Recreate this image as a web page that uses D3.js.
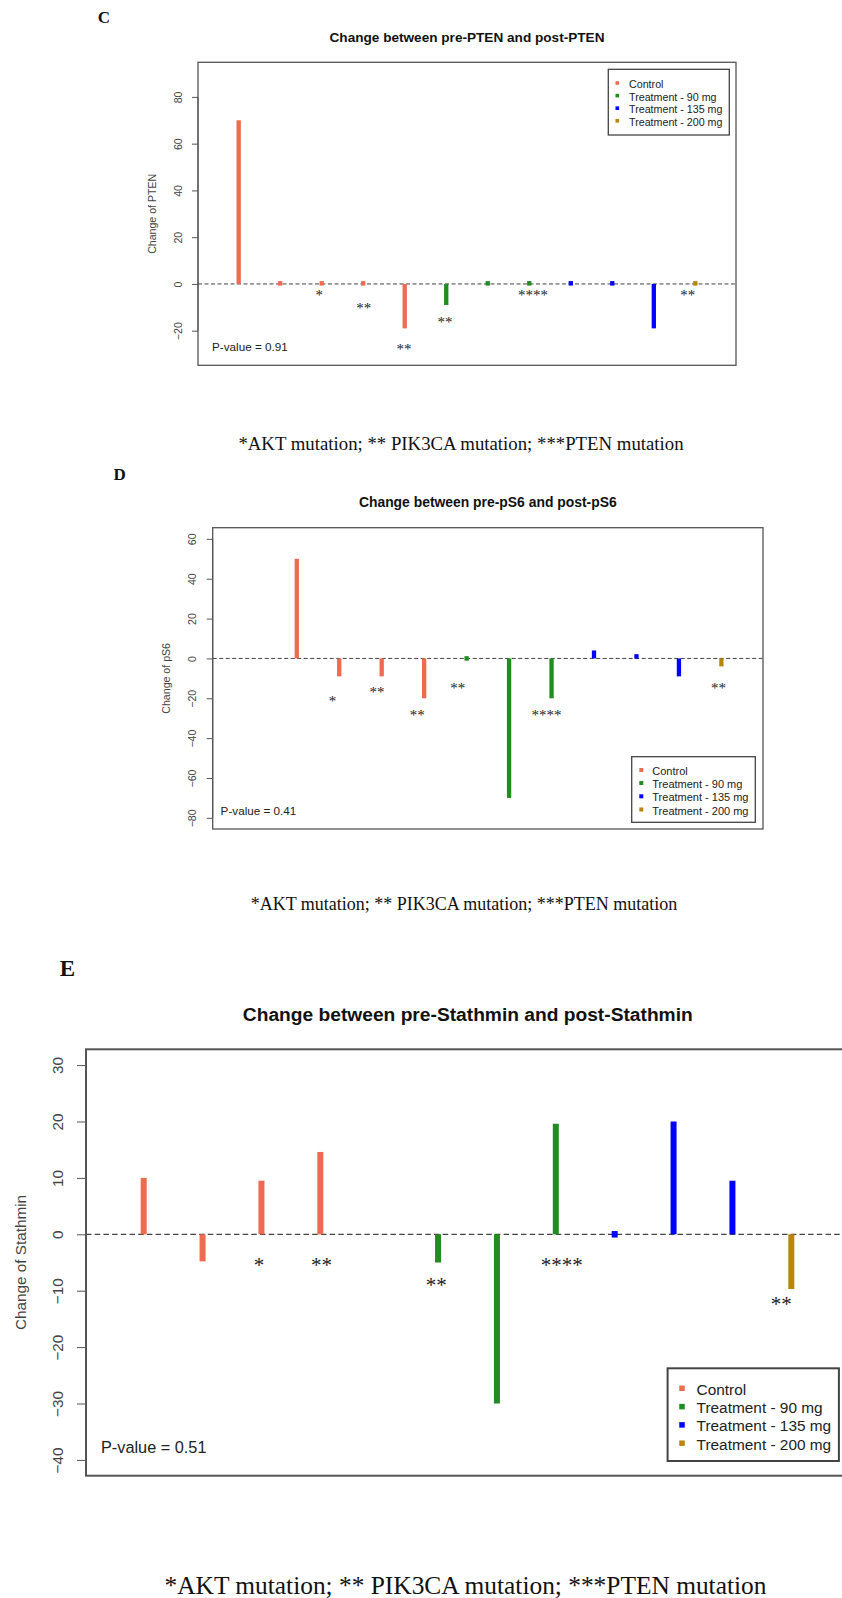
<!DOCTYPE html>
<html>
<head>
<meta charset="utf-8">
<script src="https://cdn.jsdelivr.net/npm/d3@7/dist/d3.min.js"></script>
<style>
  html, body { margin: 0; padding: 0; background: #fff; }
  svg { display: block; }
</style>
</head>
<body>
<div id="chart"></div>
<script>
// ---------------- DATA ----------------
const patients = [1, 2, 3, 4, 5, 6, 7, 8, 9, 10, 11, 12];
const groups = ["Control", "Control", "Control", "Control", "Control",
  "Treatment - 90 mg", "Treatment - 90 mg", "Treatment - 90 mg",
  "Treatment - 135 mg", "Treatment - 135 mg", "Treatment - 135 mg",
  "Treatment - 200 mg"];
const legendLabels = ["Control", "Treatment - 90 mg", "Treatment - 135 mg", "Treatment - 200 mg"];
const groupColors = ["#EE6A50", "#228B22", "#0000FF", "#B8860B"];

const ptenChange = [70, 0.5, 0.5, 0.5, -19, -9, 0.5, 0.5, 0.5, 0.5, -19, 0.5];
const ps6Change = [null, 50, -9, -9, -20, 0, -70, -20, 4, 2, -9, -4];
const stathminChange = [10, -4.8, 9.5, 14.6, null, -5, -30, 19.6, 0, 20, 9.5, -9.7];

const ptenTicks = [-20, 0, 20, 40, 60, 80];
const ps6Ticks = [-80, -60, -40, -20, 0, 20, 40, 60];
const stathminTicks = [-40, -30, -20, -10, 0, 10, 20, 30];

const ptenPValue = "P-value = 0.91";
const ps6PValue = "P-value = 0.41";
const stathminPValue = "P-value = 0.51";

// mutation marks: patient index and label
const markPatients = [3, 4, 5, 6, 8, 12];
const markLabels = ["*", "**", "**", "**", "****", "**"];
const stathminMarkPatients = [3, 4, 6, 8, 12];
const stathminMarkLabels = ["*", "**", "**", "****", "**"];

const footnote = "*AKT mutation; ** PIK3CA mutation; ***PTEN mutation";

// ---------------- LAYOUT ----------------
const W = 842, H = 1598;
const svg = d3.select("#chart").append("svg")
  .attr("width", W).attr("height", H)
  .attr("viewBox", `0 0 ${W} ${H}`);
svg.append("rect").attr("width", W).attr("height", H).attr("fill", "#fff");

const SANS = "'Liberation Sans', Arial, Helvetica, sans-serif";
const SERIF = "'Liberation Serif', 'Times New Roman', serif";

const panels = [
  {
    letter: "C", letterPos: [104, 17], letterSize: 17,
    title: "Change between pre-PTEN and post-PTEN", titlePos: [467, 37], titleSize: 13.6,
    values: ptenChange, ticks: ptenTicks, yLabel: "Change of PTEN",
    box: [198, 62.3, 736, 365.3], yDomain: [-34.8, 94.8],
    tickLen: 6, tickLabelX: 177.5, yLabelX: 152, axisFont: 10.6,
    barW: 4.3, minBar: 4.5, dash: "4,2.5", zeroW: 1, boxW: 1.3,
    pText: ptenPValue, pPos: [212, 346.7], pFont: 11.7,
    marks: markPatients, markLabels: markLabels,
    markX: [2.94, 4.01, 4.98, 5.97, 8.09, 11.82], markY: [-3.7, -9.4, -26.9, -15.2, -3.7, -3.7], markFont: 15,
    legend: { box: [608.3, 69.3, 729.3, 135], rows: [84, 96.6, 109.2, 121.8], markerX: 617.3, textX: 629, font: 10.7, marker: 3.6 },
    foot: { x: 461, y: 443, size: 18.8 }
  },
  {
    letter: "D", letterPos: [119.7, 474], letterSize: 17,
    title: "Change between pre-pS6 and post-pS6", titlePos: [487.8, 501.7], titleSize: 13.9,
    values: ps6Change, ticks: ps6Ticks, yLabel: "Change of pS6",
    box: [212.7, 527.7, 763, 829], yDomain: [-85.6, 65.6],
    tickLen: 6, tickLabelX: 191.7, yLabelX: 165.5, axisFont: 10.6,
    barW: 4.3, minBar: 4.5, dash: "4,2.5", zeroW: 1, boxW: 1.3,
    pText: ps6PValue, pPos: [220.6, 810], pFont: 11.7,
    marks: markPatients, markLabels: markLabels,
    markX: [2.84, 3.89, 4.84, 5.79, 7.88, 11.93], markY: [-20.3, -15.8, -27.2, -13.6, -27.2, -13.6], markFont: 15,
    legend: { box: [631.7, 756.7, 755.3, 822.3], rows: [771, 784, 797.3, 810.5], markerX: 641.3, textX: 652.3, font: 11, marker: 4 },
    foot: { x: 464, y: 904, size: 18 }
  },
  {
    letter: "E", letterPos: [67.4, 968.3], letterSize: 23,
    title: "Change between pre-Stathmin and post-Stathmin", titlePos: [467.8, 1014], titleSize: 19.2,
    values: stathminChange, ticks: stathminTicks, yLabel: "Change of Stathmin",
    box: [86, 1049.3, 849, 1475.7], yDomain: [-42.8, 32.8],
    tickLen: 9, tickLabelX: 57.5, yLabelX: 20.4, axisFont: 15.3,
    barW: 6, minBar: 6.5, dash: "5.5,3.2", zeroW: 1.3, boxW: 2,
    pText: stathminPValue, pPos: [101, 1447.3], pFont: 16.3,
    marks: stathminMarkPatients, markLabels: stathminMarkLabels,
    markX: [2.96, 4.02, 5.97, 8.10, 11.83], markY: [-4.9, -4.9, -8.3, -4.9, -11.7], markFont: 21,
    legend: { box: [667.6, 1368.3, 838.9, 1461], rows: [1389.3, 1407.6, 1425.9, 1444.2], markerX: 682, textX: 696.6, font: 15.4, marker: 5.5 },
    foot: { x: 465.5, y: 1585, size: 25.4 }
  }
];

const color = d3.scaleOrdinal().domain(legendLabels).range(groupColors);

panels.forEach(p => {
  const g = svg.append("g");
  const [x0, y0, x1, y1] = p.box;
  const x = d3.scaleLinear().domain([0.02, 12.98]).range([x0, x1]);
  const y = d3.scaleLinear().domain(p.yDomain).range([y1, y0]);

  // panel letter
  g.append("text").attr("x", p.letterPos[0]).attr("y", p.letterPos[1])
    .attr("text-anchor", "middle").attr("dominant-baseline", "central")
    .attr("font-family", SERIF).attr("font-weight", "bold")
    .attr("font-size", p.letterSize).attr("fill", "#111").text(p.letter);

  // title
  g.append("text").attr("x", p.titlePos[0]).attr("y", p.titlePos[1])
    .attr("text-anchor", "middle").attr("dominant-baseline", "central")
    .attr("font-family", SANS).attr("font-weight", "bold")
    .attr("font-size", p.titleSize).attr("fill", "#111").text(p.title);

  // y axis
  const axis = d3.axisLeft(y).tickValues(p.ticks).tickSize(p.tickLen).tickPadding(0).tickFormat(d3.format("d"));
  const ag = g.append("g").attr("transform", `translate(${x0},0)`).call(axis);
  ag.select(".domain").attr("stroke", "#555").attr("stroke-width", 1)
    .attr("d", `M0,${y(d3.min(p.ticks))}V${y(d3.max(p.ticks))}`);
  ag.selectAll(".tick line").attr("stroke", "#555").attr("stroke-width", 1);
  ag.selectAll(".tick text")
    .attr("x", null).attr("dy", null)
    .attr("transform", `translate(${p.tickLabelX - x0},0) rotate(-90)`)
    .attr("text-anchor", "middle").attr("dominant-baseline", "central")
    .attr("font-family", SANS).attr("font-size", p.axisFont).attr("fill", "#444");

  // y label
  g.append("text")
    .attr("transform", `translate(${p.yLabelX},${(y0 + y1) / 2}) rotate(-90)`)
    .attr("text-anchor", "middle").attr("dominant-baseline", "central")
    .attr("font-family", SANS).attr("font-size", p.axisFont).attr("fill", "#444")
    .text(p.yLabel);

  // clip for plot area
  const clipId = "clip" + p.letter;
  svg.append("clipPath").attr("id", clipId).append("rect")
    .attr("x", x0).attr("y", y0).attr("width", x1 - x0).attr("height", y1 - y0);

  // zero dashed line
  g.append("line").attr("x1", x0).attr("x2", x1).attr("y1", y(0)).attr("y2", y(0))
    .attr("stroke", "#444").attr("stroke-width", p.zeroW).attr("stroke-dasharray", p.dash);

  // bars (type = "h")
  const data = patients.map((d, i) => ({ pos: d, v: p.values[i], grp: groups[i] }))
    .filter(d => d.v !== null);
  g.append("g").attr("clip-path", `url(#${clipId})`).selectAll("rect.bar").data(data).join("rect")
    .attr("class", "bar")
    .attr("x", d => x(d.pos) - p.barW / 2)
    .attr("width", p.barW)
    .attr("y", d => {
      const a = Math.min(y(d.v), y(0)), b = Math.max(y(d.v), y(0));
      if (b - a < p.minBar) return (a + b) / 2 - p.minBar / 2;
      return a;
    })
    .attr("height", d => Math.max(Math.abs(y(d.v) - y(0)), p.minBar))
    .attr("fill", d => color(d.grp));

  // mutation marks
  g.selectAll("text.mark").data(p.markLabels).join("text")
    .attr("class", "mark")
    .attr("x", (d, i) => x(p.markX[i]))
    .attr("y", (d, i) => y(p.markY[i]) + p.markFont * 0.5)
    .attr("text-anchor", "middle")
    .attr("font-family", SERIF).attr("font-size", p.markFont).attr("fill", "#222")
    .text(d => d);

  // p-value
  g.append("text").attr("x", p.pPos[0]).attr("y", p.pPos[1])
    .attr("dominant-baseline", "central")
    .attr("font-family", SANS).attr("font-size", p.pFont).attr("fill", "#222")
    .text(p.pText);

  // legend
  const L = p.legend;
  g.append("rect").attr("x", L.box[0]).attr("y", L.box[1])
    .attr("width", L.box[2] - L.box[0]).attr("height", L.box[3] - L.box[1])
    .attr("fill", "#fff").attr("stroke", "#444").attr("stroke-width", p.boxW);
  const lg = g.selectAll("g.leg").data(legendLabels).join("g").attr("class", "leg");
  lg.append("rect")
    .attr("x", L.markerX - L.marker / 2).attr("y", (d, i) => L.rows[i] - L.marker / 2 - 1)
    .attr("width", L.marker).attr("height", L.marker)
    .attr("fill", d => color(d));
  lg.append("text")
    .attr("x", L.textX).attr("y", (d, i) => L.rows[i])
    .attr("dominant-baseline", "central")
    .attr("font-family", SANS).attr("font-size", L.font).attr("fill", "#222")
    .text(d => d);

  // plot box
  g.append("rect").attr("x", x0).attr("y", y0).attr("width", x1 - x0).attr("height", y1 - y0)
    .attr("fill", "none").attr("stroke", "#555").attr("stroke-width", p.boxW);

  // footnote
  g.append("text").attr("x", p.foot.x).attr("y", p.foot.y)
    .attr("text-anchor", "middle").attr("dominant-baseline", "central")
    .attr("font-family", SERIF).attr("font-size", p.foot.size).attr("fill", "#111")
    .text(footnote);
});
</script>
</body>
</html>
